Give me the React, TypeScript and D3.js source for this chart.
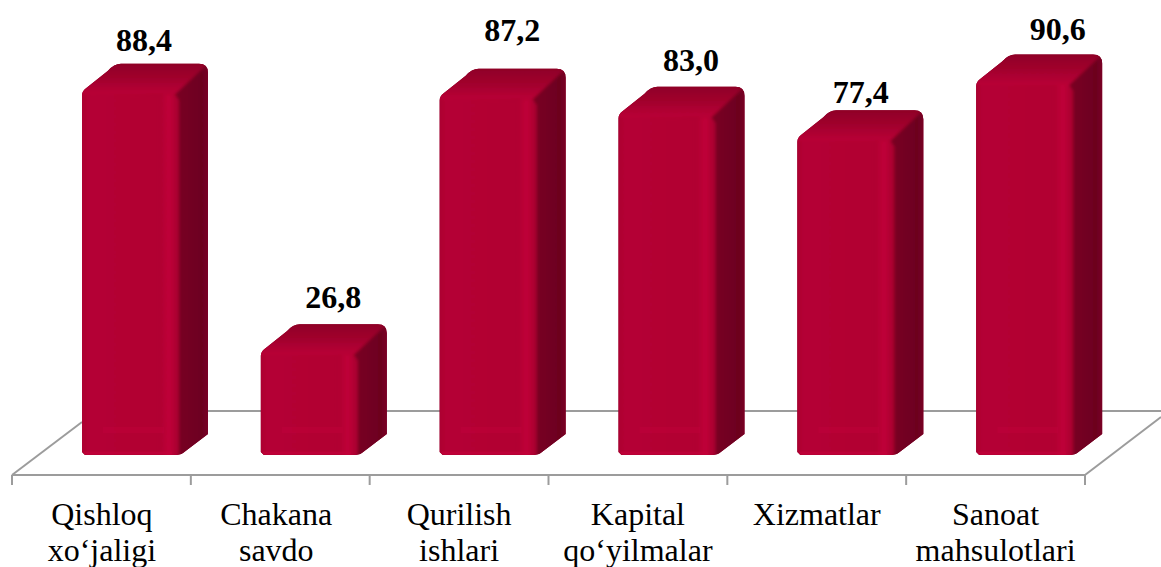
import React from "react";
import * as d3 from "d3";

const categories = [
  ["Qishloq", "xo‘jaligi"],
  ["Chakana", "savdo"],
  ["Qurilish", "ishlari"],
  ["Kapital", "qo‘yilmalar"],
  ["Xizmatlar"],
  ["Sanoat", "mahsulotlari"],
];
const values = [88.4, 26.8, 87.2, 83.0, 77.4, 90.6];
const valueText = ["88,4", "26,8", "87,2", "83,0", "77,4", "90,6"];
const labelLift = [13, 16, 28, 16, 7, 14.5];
const valueNudge = [13, 23.5, 23.5, 23.5, 14.5, 32.5];
const labelNudge = [0.5, -4, 0, 0, 0, 0];

const floorL = 12, floorR = 1085, floorY = 475, backY = 411;
const baseY = 455, barW = 101, barOff = 69, dx = 26, dy = 26.5;

export default function App() {
  const keys = categories.map((_, i) => String(i));
  const x = d3.scaleBand().domain(keys).range([floorL, floorR]);
  const y = d3.scaleLinear().domain([0, 90.6]).range([464, 81]);
  const ticks = [...keys.map((k) => x(k)!), floorR];
  const serif = "'Liberation Serif','Times New Roman',serif";
  return (
    <svg width={1161} height={567} style={{ position: "absolute", left: 0, top: 0, background: "#fff" }}>
      <defs>
        <linearGradient id="front" x1="0" x2="1" y1="0" y2="0">
          <stop offset="0" stopColor="#a6002f" />
          <stop offset="0.1" stopColor="#b40034" />
          <stop offset="0.82" stopColor="#b10032" />
          <stop offset="0.9" stopColor="#c00038" />
          <stop offset="1" stopColor="#a5002e" />
        </linearGradient>
        <linearGradient id="top" x1="0" x2="0" y1="1" y2="0">
          <stop offset="0" stopColor="#bb0037" />
          <stop offset="0.45" stopColor="#a2002d" />
          <stop offset="1" stopColor="#8a0026" />
        </linearGradient>
        <linearGradient id="side" x1="0" x2="1" y1="0" y2="0">
          <stop offset="0" stopColor="#7a0022" />
          <stop offset="0.75" stopColor="#6c001f" />
          <stop offset="1" stopColor="#84002a" />
        </linearGradient>
        <filter id="edge" x="-5%" y="-5%" width="110%" height="110%">
          <feGaussianBlur stdDeviation="0.7" />
        </filter>
        <filter id="inner" x="-10%" y="-10%" width="120%" height="120%">
          <feGaussianBlur stdDeviation="1.8" />
        </filter>
        <filter id="line" x="-2%" y="-20%" width="104%" height="140%">
          <feGaussianBlur stdDeviation="0.5" />
        </filter>
      </defs>

      <g stroke="#9c9c9c" strokeWidth={2} fill="none" filter="url(#line)">
        <path d={`M${floorL},${floorY}L${floorR},${floorY}`} />
        <path d={`M${floorL},${floorY}L${floorL + 70},${floorY - 53}`} />
        <path d={`M${floorR},${floorY}L1161,${floorY - 58}`} />
        <path d={`M${floorL + 70},${backY}L1161,${backY}`} />
        {ticks.map((t, i) => (
          <path key={i} d={`M${t},${floorY}V${floorY + 10}`} />
        ))}
      </g>

      {values.map((v, i) => {
        const x0 = x(keys[i])! + barOff;
        const x1 = x0 + barW;
        const t = y(v);
        const bt = t - dy;
        const silhouette = `M${x0 + 1},${baseY - 3}V${t + 5}Q${x0 + 1},${t + 1} ${x0 + 5},${t - 2}L${x0 + 27},${bt + 7}Q${x0 + 33},${bt} ${x0 + 40},${bt}H${x1 + dx - 9}Q${x1 + dx},${bt} ${x1 + dx},${bt + 9}V${baseY - 21}L${x1 + 1},${baseY - 2}Q${x1 - 2},${baseY} ${x1 - 8},${baseY}H${x0 + 4}Z`;
        const side = `M${x1 - 7},${t + 4}L${x1 + dx + 4},${bt - 4}V${baseY - 15}L${x1 - 3},${baseY + 4}V${t + 10}Z`;
        const top = `M${x0 - 3},${t + 5}V${bt - 4}H${x1 + dx + 4}L${x1 - 7},${t + 4}Z`;
        const front = `M${x0 - 3},${baseY + 4}V${t + 4}H${x1 - 7}L${x1 - 3},${t + 10}V${baseY + 4}Z`;
        const clipId = `clip${i}`;
        return (
          <g key={i}>
            <clipPath id={clipId}>
              <path d={silhouette} />
            </clipPath>
            <g filter="url(#edge)">
              <g clipPath={`url(#${clipId})`}>
                <rect x={x0 - 4} y={bt - 4} width={barW + dx + 10} height={baseY - bt + 8} fill="#8a0026" />
                <g filter="url(#inner)">
                  <path d={side} fill="url(#side)" />
                  <path d={top} fill="url(#top)" />
                  <path d={front} fill="url(#front)" />
                </g>
                <path d={`M${x0 + 22},${baseY - 25}H${x1 - 18}`} stroke="#bd0038" strokeWidth={6} fill="none" opacity={0.55} />
                <path d={`M${x0 + 3},${baseY - 2}H${x1 - 10}`} stroke="#c4003a" strokeWidth={3} fill="none" opacity={0.6} />
              </g>
            </g>
            <text
              x={x0 + 50 + valueNudge[i]}
              y={bt - labelLift[i]}
              textAnchor="middle"
              fontFamily={serif}
              fontWeight="bold"
              fontSize={32}
              fill="#000"
            >
              {valueText[i]}
            </text>
          </g>
        );
      })}

      {categories.map((lines, i) =>
        lines.map((line, j) => (
          <text
            key={`${i}-${j}`}
            x={x(keys[i])! + x.bandwidth() / 2 + labelNudge[i]}
            y={525 + j * 36}
            textAnchor="middle"
            fontFamily={serif}
            fontSize={32}
            fill="#000"
          >
            {line}
          </text>
        ))
      )}
    </svg>
  );
}
